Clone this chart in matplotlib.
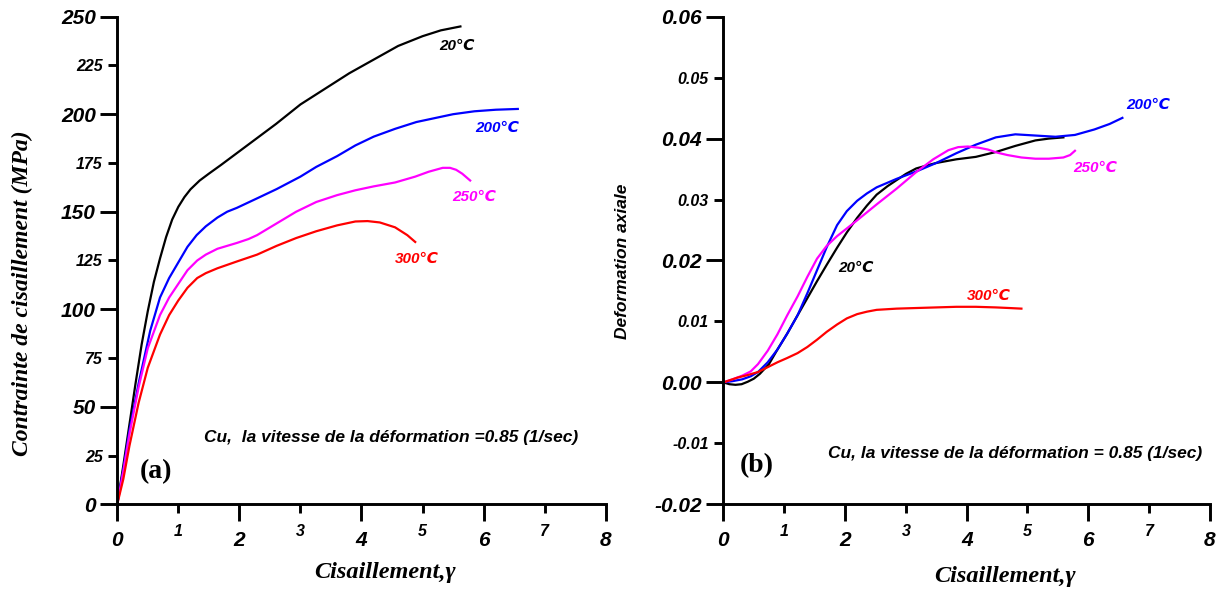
import numpy as np
import matplotlib
matplotlib.use("Agg")
import matplotlib.pyplot as plt

SANS = ["Liberation Sans", "DejaVu Sans"]
SERIF = ["Liberation Serif", "DejaVu Serif"]

# ---- panel (a): shear stress vs shear strain ----
x20a = [0, 0.1, 0.2, 0.3, 0.4, 0.5, 0.6, 0.7, 0.8, 0.9, 1.0, 1.1, 1.2, 1.35, 1.5, 1.7, 2.0, 2.3, 2.6, 3.0, 3.4, 3.8, 4.2, 4.6, 5.0, 5.3, 5.62]
y20a = [0, 20, 41, 62, 82, 99, 114, 126, 137, 146, 152.5, 157.5, 161.5, 166, 169.5, 174, 181, 188, 195, 205, 213, 221, 228, 235, 240, 243, 245]

x200a = [0, 0.1, 0.2, 0.35, 0.54, 0.7, 0.85, 1.0, 1.15, 1.3, 1.45, 1.64, 1.8, 1.96, 2.3, 2.61, 3.0, 3.26, 3.6, 3.9, 4.2, 4.55, 4.9, 5.2, 5.5, 5.85, 6.2, 6.56]
y200a = [0, 18, 38, 62, 89, 106, 116, 124, 132, 138, 142.5, 147, 150, 152, 157, 161.6, 168, 173, 178.5, 184, 188.5, 192.5, 196, 198, 200, 201.5, 202.3, 202.7]

x250a = [0, 0.1, 0.2, 0.35, 0.5, 0.7, 0.85, 1.0, 1.15, 1.31, 1.45, 1.64, 1.8, 1.96, 2.15, 2.29, 2.45, 2.61, 2.93, 3.26, 3.6, 3.9, 4.2, 4.55, 4.88, 5.1, 5.33, 5.45, 5.55, 5.65, 5.78]
y250a = [0, 17, 36, 60, 80, 97, 106, 113, 120, 125, 128, 131, 132.5, 134, 136, 138, 141, 144, 150, 155, 158.5, 161, 163, 165, 168, 170.5, 172.5, 172.5, 171.5, 169.5, 166]

x300a = [0, 0.1, 0.2, 0.35, 0.5, 0.7, 0.85, 1.0, 1.15, 1.31, 1.45, 1.64, 1.96, 2.29, 2.61, 2.93, 3.26, 3.6, 3.9, 4.1, 4.3, 4.55, 4.75, 4.88]
y300a = [0, 13, 30, 52, 70, 87, 97, 104.5, 111, 116, 118.5, 121, 124.5, 128, 132.5, 136.5, 140, 143, 145, 145.2, 144.5, 142, 138, 134.5]

# ---- panel (b): axial strain vs shear strain ----
x20b = [0, 0.1, 0.2, 0.3, 0.4, 0.5, 0.6, 0.75, 0.89, 1.05, 1.22, 1.38, 1.54, 1.7, 1.87, 2.03, 2.2, 2.36, 2.52, 2.7, 2.85, 3.0, 3.17, 3.35, 3.5, 3.83, 4.15, 4.48, 4.8, 5.13, 5.35, 5.59]
y20b = [0, -0.0003, -0.0004, -0.0003, 0.0001, 0.0006, 0.0014, 0.003, 0.0054, 0.008, 0.011, 0.0138, 0.0166, 0.0193, 0.0221, 0.0246, 0.027, 0.029, 0.0308, 0.0322, 0.0332, 0.0342, 0.0351, 0.0356, 0.036, 0.0366, 0.037, 0.0378, 0.0388, 0.0397, 0.04, 0.0402]

x200b = [0, 0.15, 0.31, 0.45, 0.57, 0.73, 0.89, 1.05, 1.22, 1.38, 1.54, 1.7, 1.87, 2.03, 2.2, 2.36, 2.52, 2.85, 3.17, 3.5, 3.83, 4.15, 4.48, 4.8, 5.13, 5.46, 5.78, 6.1, 6.35, 6.56]
y200b = [0, 0.0002, 0.0005, 0.001, 0.0017, 0.0033, 0.0054, 0.008, 0.011, 0.0146, 0.0184, 0.0222, 0.0258, 0.0281, 0.0298, 0.031, 0.032, 0.0334, 0.0346, 0.036, 0.0376, 0.039, 0.0402, 0.0407, 0.0405, 0.0403, 0.0406, 0.0415, 0.0424, 0.0434]

x250b = [0, 0.15, 0.31, 0.45, 0.57, 0.73, 0.89, 1.05, 1.22, 1.38, 1.54, 1.7, 1.87, 2.2, 2.52, 2.85, 3.17, 3.45, 3.7, 3.86, 4.02, 4.2, 4.35, 4.5, 4.67, 4.9, 5.13, 5.35, 5.59, 5.7, 5.78]
y250b = [0, 0.0005, 0.0011, 0.0018, 0.003, 0.0052, 0.0079, 0.011, 0.0141, 0.0173, 0.0203, 0.0224, 0.024, 0.0266, 0.0292, 0.0318, 0.0345, 0.0366, 0.0381, 0.0386, 0.0387, 0.0385, 0.0382, 0.0377, 0.0373, 0.0369, 0.0367, 0.0367, 0.0369, 0.0373, 0.038]

x300b = [0, 0.24, 0.4, 0.57, 0.73, 0.89, 1.05, 1.22, 1.38, 1.54, 1.7, 1.87, 2.03, 2.2, 2.36, 2.52, 2.85, 3.17, 3.5, 3.83, 4.15, 4.48, 4.7, 4.9]
y300b = [0, 0.0008, 0.0012, 0.0017, 0.0025, 0.0033, 0.004, 0.0048, 0.0058, 0.007, 0.0083, 0.0095, 0.0105, 0.0112, 0.0116, 0.0119, 0.0121, 0.0122, 0.0123, 0.0124, 0.0124, 0.0123, 0.0122, 0.0121]

major_x = [0, 2, 4, 6, 8]
minor_x = [1, 3, 5, 7]
major_ya = [0, 50, 100, 150, 200, 250]
minor_ya = [25, 75, 125, 175, 225]
major_yb = [-0.02, 0.00, 0.02, 0.04, 0.06]
minor_yb = [-0.01, 0.01, 0.03, 0.05]

note = "Cu,  la vitesse de la déformation =0.85 (1/sec)"
note_b = "Cu, la vitesse de la déformation = 0.85 (1/sec)"

fig = plt.figure(figsize=(12.2, 5.9), dpi=100)
axa = fig.add_axes([0.0961, 0.1453, 0.4004, 0.8264])
axb = fig.add_axes([0.5929, 0.1453, 0.3989, 0.8264])


def style(ax):
    for s in ["top", "right"]:
        ax.spines[s].set_visible(False)
    for s in ["left", "bottom"]:
        ax.spines[s].set_linewidth(2.1)
    ax.tick_params(which="major", direction="out", length=12.5, width=2.1, labelsize=15, pad=3)
    ax.tick_params(which="minor", direction="out", length=6.5, width=2.1, labelsize=11.5, pad=4)
    ax.tick_params(axis="x", which="major", pad=7)
    ax.tick_params(axis="x", which="minor", pad=8)
    for lab in ax.get_xticklabels(which="both") + ax.get_yticklabels(which="both"):
        lab.set_family(SANS)
        lab.set_fontweight("bold")
        lab.set_fontstyle("italic")


axa.plot(x20a, y20a, color="black", lw=1.6)
axa.plot(x200a, y200a, color="blue", lw=1.6)
axa.plot(x250a, y250a, color="magenta", lw=1.6)
axa.plot(x300a, y300a, color="red", lw=1.6)
axa.set_xlim(0, 8)
axa.set_ylim(0, 250)
axa.set_xticks(major_x)
axa.set_xticks(minor_x, minor=True)
axa.set_xticklabels([str(v) for v in major_x])
axa.set_xticklabels([str(v) for v in minor_x], minor=True)
axa.set_yticks(major_ya)
axa.set_yticks(minor_ya, minor=True)
axa.set_yticklabels([str(v) for v in major_ya])
axa.set_yticklabels([str(v) for v in minor_ya], minor=True)
style(axa)

lab_kw = dict(family=SANS, fontweight="bold", fontstyle="italic", fontsize=11, ha="center", va="center")
note_kw = dict(family=SANS, fontweight="bold", fontstyle="italic", fontsize=12.5, ha="center", va="center")
axa.text(5.56, 235, "20℃", color="black", **lab_kw)
axa.text(6.22, 193, "200℃", color="blue", **lab_kw)
axa.text(5.85, 157.5, "250℃", color="magenta", **lab_kw)
axa.text(4.9, 126, "300℃", color="red", **lab_kw)
axa.text(4.49, 34, note, **note_kw)
axa.text(0.63, 17, "(a)", family=SERIF, fontweight="bold", fontsize=20, ha="center", va="center")

axa.set_xlabel("Cisaillement,γ", family=SERIF, fontweight="bold", fontstyle="italic", fontsize=17.5, ha="center", va="center")
axa.xaxis.set_label_coords(0.548, -0.139)
axa.set_ylabel("Contrainte de cisaillement (MPa)", family=SERIF, fontweight="bold", fontstyle="italic", fontsize=17, ha="center", va="center")
axa.yaxis.set_label_coords(-0.195, 0.432)

axb.plot(x20b, y20b, color="black", lw=1.6)
axb.plot(x200b, y200b, color="blue", lw=1.6)
axb.plot(x250b, y250b, color="magenta", lw=1.6)
axb.plot(x300b, y300b, color="red", lw=1.6)
axb.set_xlim(0, 8)
axb.set_ylim(-0.02, 0.06)
axb.set_xticks(major_x)
axb.set_xticks(minor_x, minor=True)
axb.set_xticklabels([str(v) for v in major_x])
axb.set_xticklabels([str(v) for v in minor_x], minor=True)
axb.set_yticks(major_yb)
axb.set_yticks(minor_yb, minor=True)
axb.set_yticklabels(["%.2f" % v for v in major_yb])
axb.set_yticklabels(["%.2f" % v for v in minor_yb], minor=True)
style(axb)

axb.text(6.99, 0.0455, "200℃", color="blue", **lab_kw)
axb.text(6.11, 0.0352, "250℃", color="magenta", **lab_kw)
axb.text(2.18, 0.0188, "20℃", color="black", **lab_kw)
axb.text(4.36, 0.0141, "300℃", color="red", **lab_kw)
axb.text(4.8, -0.0117, note_b, **note_kw)
axb.text(0.55, -0.0137, "(b)", family=SERIF, fontweight="bold", fontsize=20, ha="center", va="center")

axb.set_xlabel("Cisaillement,γ", family=SERIF, fontweight="bold", fontstyle="italic", fontsize=17.5, ha="center", va="center")
axb.xaxis.set_label_coords(0.579, -0.149)
axb.set_ylabel("Deformation axiale", family=SANS, fontweight="bold", fontstyle="italic", fontsize=12.5, ha="center", va="center")
axb.yaxis.set_label_coords(-0.208, 0.499)

fig.savefig("out.png", dpi=100)
